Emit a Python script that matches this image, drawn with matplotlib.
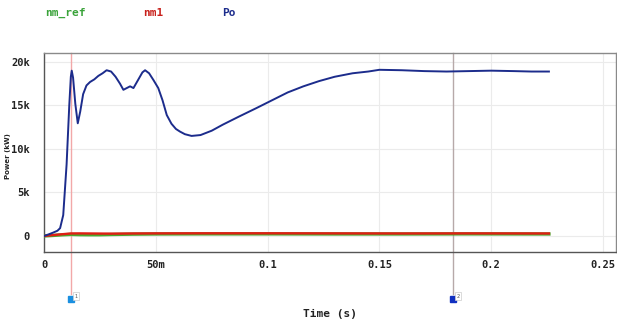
import numpy as np
import matplotlib.pyplot as plt
from matplotlib.transforms import blended_transform_factory

# Simulated output power (kW) against time (s)
t_po = [0, 0.002, 0.004, 0.006, 0.0072, 0.0086, 0.0101, 0.0113, 0.0120, 0.0124,
        0.0130, 0.0140, 0.0151, 0.0162, 0.0175, 0.0190, 0.0206, 0.0225, 0.0243,
        0.0262, 0.0280, 0.0300, 0.0320, 0.0340, 0.0355, 0.0370, 0.0385, 0.0400,
        0.0420, 0.0440, 0.0452, 0.0470, 0.0490, 0.0511, 0.0530, 0.0549, 0.0570,
        0.0590, 0.0608, 0.0630, 0.0660, 0.0700, 0.0750, 0.0800, 0.0870, 0.0950,
        0.1020, 0.1090, 0.1160, 0.1230, 0.1300, 0.1380, 0.1450, 0.1500, 0.1600,
        0.1700, 0.1800, 0.1900, 0.2000, 0.2100, 0.2180, 0.2258]
po = [0, 180, 380, 600, 900, 2400, 8200, 15000, 18300, 19000,
      18200, 15200, 12950, 14300, 16300, 17300, 17700, 18000, 18400,
      18700, 19050, 18900, 18300, 17500, 16800, 17000, 17200, 17000,
      17900, 18800, 19050, 18700, 17900, 17000, 15600, 13900, 12900,
      12300, 12000, 11700, 11500, 11600, 12100, 12800, 13700, 14700,
      15600, 16500, 17200, 17800, 18300, 18700, 18900, 19100, 19050,
      18950, 18900, 18950, 19000, 18950, 18900, 18900]

# Speed reference and measured speed traces
t_nm = [0, 0.004, 0.008, 0.012, 0.016, 0.020, 0.025, 0.030, 0.040, 0.050,
        0.070, 0.100, 0.130, 0.160, 0.190, 0.2258]
nm_ref = [0, 60, 130, 180, 150, 140, 140, 170, 210, 230, 240, 240, 230, 230, 240, 230]
nm1 = [0, 100, 200, 290, 300, 290, 280, 270, 290, 300, 310, 310, 300, 290, 300, 290]

# Cursor positions
cursors = [0.0122, 0.1830]

mono = 'DejaVu Sans Mono'
fig = plt.figure(figsize=(6.17, 3.32), dpi=100)
ax = fig.add_axes([44 / 617, 1 - 252 / 332, 572 / 617, 199 / 332])

ax.plot(t_nm, nm_ref, color='#4aa82e', lw=2.4, zorder=3)
ax.plot(t_nm, nm1, color='#e01e14', lw=1.7, zorder=4)
ax.plot(t_po, po, color='#1c2c8c', lw=1.4, zorder=5)

ax.set_xlim(0, 0.2558)
ax.set_ylim(-1840, 21030)
ax.set_xticks([0, 0.05, 0.1, 0.15, 0.2, 0.25])
ax.set_xticklabels(['0', '50m', '0.1', '0.15', '0.2', '0.25'])
ax.set_yticks([0, 5000, 10000, 15000, 20000])
ax.set_yticklabels(['0', '5k', '10k', '15k', '20k'])
ax.tick_params(length=0, labelsize=7.5, labelcolor='#222222')
ax.tick_params(axis='x', pad=6)
ax.tick_params(axis='y', pad=10)
for lab in ax.get_xticklabels() + ax.get_yticklabels():
    lab.set_family(mono)
    lab.set_fontweight('bold')
ax.grid(True, color='#ebebeb', lw=0.8)
ax.set_axisbelow(True)
for s in ax.spines.values():
    s.set_color('#8a8a8a')
    s.set_linewidth(1.0)
ax.spines['left'].set_color('#555555')
ax.spines['bottom'].set_color('#555555')

# cursor lines run below the axes down to their handles
trans = blended_transform_factory(ax.transData, ax.transAxes)
cur_colors = ['#f2a8a8', '#b7a9a9']
tag_colors = ['#1a8fe0', '#1030c0']
for i, (c, lc, tc) in enumerate(zip(cursors, cur_colors, tag_colors)):
    ax.plot([c, c], [1, -0.21], color=lc, lw=1.0, transform=trans,
            clip_on=False, zorder=2)
    ax.plot(c, -0.235, marker='s', ms=5, color=tc, transform=trans,
            clip_on=False)
    ax.text(c + 0.0013, -0.222, str(i + 1), fontsize=3.5, color='#555555',
            transform=trans, va='center',
            bbox=dict(boxstyle='square,pad=0.3', fc='white', ec='#cccccc', lw=0.5))

ax.set_xlabel('Time (s)', family=mono, fontsize=8, fontweight='bold',
              color='#222222', labelpad=28)
fig.text(8 / 617, 1 - 156 / 332, 'Power (kW)', rotation=90, fontsize=5,
         fontweight='bold', ha='center', va='center', color='#222222')

# trace names along the top
for x, name, col in [(45, 'nm_ref', '#3aa33a'), (143, 'nm1', '#c8201b'),
                     (222, 'Po', '#1c2c8c')]:
    fig.text(x / 617, 1 - 13 / 332, name, family=mono, fontsize=8,
             fontweight='bold', color=col, va='center')

fig.savefig('out.png', dpi=100)
